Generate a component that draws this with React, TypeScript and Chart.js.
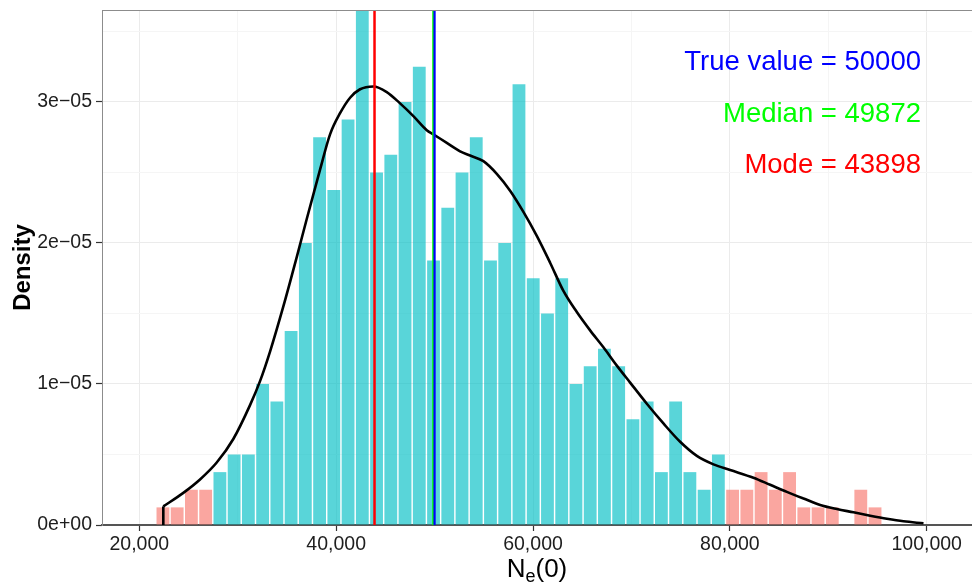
import React, { useEffect, useRef } from 'react';
import { Chart, registerables } from 'chart.js';

Chart.register(...registerables);

// ---- Histogram bins (bin centres on N_e(0) axis) ----
const binCenters = [
  22400, 23847, 25294, 26741, 28188, 29635, 31082, 32529, 33976, 35423,
  36870, 38317, 39764, 41211, 42658, 44105, 45552, 46999, 48446, 49893,
  51340, 52787, 54234, 55681, 57128, 58575, 60022, 61469, 62916, 64363,
  65810, 67257, 68704, 70151, 71598, 73045, 74492, 75939, 77386, 78833,
  80280, 81727, 83174, 84621, 86068, 87515, 88962, 90409, 91856, 93303,
  94750,
];

const binDensity = [
  1.25e-6, 1.25e-6, 2.5e-6, 2.5e-6, 3.75e-6, 5.0e-6, 5.0e-6, 1.0e-5, 8.75e-6, 1.375e-5,
  2.0e-5, 2.75e-5, 2.375e-5, 2.875e-5, 3.875e-5, 2.5e-5, 2.625e-5, 3.0e-5, 3.25e-5, 1.875e-5,
  2.25e-5, 2.5e-5, 2.75e-5, 1.875e-5, 2.0e-5, 3.125e-5, 1.75e-5, 1.5e-5, 1.75e-5, 1.0e-5,
  1.125e-5, 1.25e-5, 1.125e-5, 7.5e-6, 8.75e-6, 3.75e-6, 8.75e-6, 3.75e-6, 2.5e-6, 5.0e-6,
  2.5e-6, 2.5e-6, 3.75e-6, 2.5e-6, 3.75e-6, 1.25e-6, 1.25e-6, 1.25e-6, 0, 2.5e-6,
  1.25e-6,
];

// 'tail' = outside the interval (salmon), 'core' = inside (teal)
const binRegion = [
  'tail', 'tail', 'tail', 'tail', 'core', 'core', 'core', 'core', 'core', 'core',
  'core', 'core', 'core', 'core', 'core', 'core', 'core', 'core', 'core', 'core',
  'core', 'core', 'core', 'core', 'core', 'core', 'core', 'core', 'core', 'core',
  'core', 'core', 'core', 'core', 'core', 'core', 'core', 'core', 'core', 'core',
  'tail', 'tail', 'tail', 'tail', 'tail', 'tail', 'tail', 'tail', 'tail', 'tail',
  'tail',
];

// ---- Kernel density curve ----
const densityX = [
  22439, 24472, 26169, 27866, 29553, 31250, 32266, 33283, 34634, 35996,
  37012, 38364, 39380, 40396, 41413, 42429, 43780, 45142, 46494, 47846,
  49207, 49878, 51240, 52591, 53608, 54959, 56321, 57673, 59024, 60386,
  61738, 63089, 64451, 65803, 67154, 68516, 69868, 71565, 73252, 74949,
  76646, 78333, 80030, 82398, 84096, 85793, 87480, 89177, 90874, 92561,
  94258, 95955, 97642, 99675,
];
const densityY = [
  0.132e-5, 0.228e-5, 0.323e-5, 0.443e-5, 0.61e-5, 0.85e-5, 1.02e-5, 1.23e-5, 1.55e-5, 1.9e-5,
  2.17e-5, 2.52e-5, 2.77e-5, 2.92e-5, 3.03e-5, 3.09e-5, 3.11e-5, 3.07e-5, 2.99e-5, 2.9e-5,
  2.8e-5, 2.77e-5, 2.71e-5, 2.65e-5, 2.62e-5, 2.58e-5, 2.49e-5, 2.37e-5, 2.22e-5, 2.05e-5,
  1.86e-5, 1.66e-5, 1.51e-5, 1.38e-5, 1.26e-5, 1.13e-5, 1.01e-5, 0.86e-5, 0.72e-5, 0.59e-5,
  0.49e-5, 0.43e-5, 0.39e-5, 0.335e-5, 0.285e-5, 0.235e-5, 0.188e-5, 0.142e-5, 0.113e-5, 0.09e-5,
  0.066e-5, 0.044e-5, 0.026e-5, 0.012e-5,
];

// ---- Reference values ----
const trueValue = 50000;
const medianValue = 49872;
const modeValue = 43898;
const annotationLabels = [
  `True value = ${trueValue}`,
  `Median = ${medianValue}`,
  `Mode = ${modeValue}`,
];
const annotationColors = ['#0000FF', '#00FF00', '#FF0000'];
const annotationY = [3.293e-5, 2.926e-5, 2.567e-5];
const annotationX = 99420;

// ---- Axes ----
const xMin = 16210;
const xMax = 104602;
const yMax = 3.652e-5;
const xTickValues = [20000, 30000, 40000, 50000, 60000, 70000, 80000, 90000, 100000];
const xTickLabels = ['20,000', '', '40,000', '', '60,000', '', '80,000', '', '100,000'];
const yTickValues = [0, 0.5e-5, 1e-5, 1.5e-5, 2e-5, 2.5e-5, 3e-5, 3.5e-5];
const yTickLabels = ['0e+00', '', '1e\u221205', '', '2e\u221205', '', '3e\u221205', ''];

const FONT = '"Liberation Sans", Arial, Helvetica, sans-serif';

const isMajorX = (v: number) => xTickLabels[xTickValues.indexOf(v)] !== '';
const isMajorY = (v: number) => yTickLabels[yTickValues.indexOf(v)] !== '';

const overlayPlugin = {
  id: 'overlay',
  afterDraw(chart: any) {
    const { ctx, chartArea, scales } = chart;
    const xs = scales.x;
    const ys = scales.y;
    ctx.save();

    // top panel border
    ctx.strokeStyle = '#8C8C8C';
    ctx.lineWidth = 1;
    ctx.beginPath();
    ctx.moveTo(chartArea.left, chartArea.top + 0.5);
    ctx.lineTo(chartArea.right, chartArea.top + 0.5);
    ctx.stroke();

    // annotations
    const af = 27.5;
    ctx.font = `${af}px ${FONT}`;
    ctx.textAlign = 'right';
    ctx.textBaseline = 'alphabetic';
    annotationLabels.forEach((t, i) => {
      ctx.fillStyle = annotationColors[i];
      ctx.fillText(t, xs.getPixelForValue(annotationX), ys.getPixelForValue(annotationY[i]) + 0.358 * af);
    });

    // x-axis title: N_e(0)
    const mainF = 26;
    const subF = 18;
    const baseY = chartArea.bottom + 52;
    ctx.fillStyle = '#000000';
    ctx.textAlign = 'left';
    ctx.font = `${mainF}px ${FONT}`;
    const wN = ctx.measureText('N').width;
    const wP = ctx.measureText('(0)').width;
    ctx.font = `${subF}px ${FONT}`;
    const wE = ctx.measureText('e').width;
    const total = wN + wE + wP;
    let cx = (chartArea.left + chartArea.right) / 2 - total / 2;
    ctx.font = `${mainF}px ${FONT}`;
    ctx.fillText('N', cx, baseY);
    cx += wN;
    ctx.font = `${subF}px ${FONT}`;
    ctx.fillText('e', cx, baseY + 4.5);
    cx += wE;
    ctx.font = `${mainF}px ${FONT}`;
    ctx.fillText('(0)', cx, baseY);

    // y-axis title
    ctx.font = `bold 24px ${FONT}`;
    ctx.textAlign = 'center';
    ctx.translate(30, (chartArea.top + chartArea.bottom) / 2);
    ctx.rotate(-Math.PI / 2);
    ctx.fillText('Density', 0, 0);

    ctx.restore();
  },
};

export default function App() {
  const canvasRef = useRef<HTMLCanvasElement | null>(null);

  useEffect(() => {
    const canvas = canvasRef.current;
    if (!canvas) return;

    const barData = binCenters.map((x, i) => ({ x, y: binDensity[i] }));
    const curveData = densityX.map((x, i) => ({ x, y: densityY[i] }));
    const vline = (v: number) => [{ x: v, y: 0 }, { x: v, y: yMax }];

    const chart = new Chart(canvas, {
      type: 'bar',
      data: {
        datasets: [
          {
            type: 'bar',
            data: barData as any,
            backgroundColor: binRegion.map((r) =>
              r === 'tail' ? 'rgba(248,118,109,0.65)' : 'rgba(0,191,196,0.65)'
            ),
            borderWidth: 0,
            barPercentage: 0.9,
            categoryPercentage: 1,
            order: 5,
          } as any,
          {
            type: 'line',
            data: curveData as any,
            borderColor: '#000000',
            borderWidth: 2.6,
            pointRadius: 0,
            cubicInterpolationMode: 'monotone',
            fill: false,
            order: 4,
          } as any,
          {
            type: 'line',
            data: [{ x: densityX[0], y: 0 }, { x: densityX[0], y: densityY[0] }] as any,
            borderColor: '#000000',
            borderWidth: 2.6,
            pointRadius: 0,
            fill: false,
            order: 4,
          } as any,
          {
            type: 'line',
            data: vline(modeValue) as any,
            borderColor: '#FF0000',
            borderWidth: 2.5,
            pointRadius: 0,
            fill: false,
            order: 3,
          } as any,
          {
            type: 'line',
            data: vline(medianValue) as any,
            borderColor: '#00FF00',
            borderWidth: 2.2,
            pointRadius: 0,
            fill: false,
            order: 2,
          } as any,
          {
            type: 'line',
            data: vline(trueValue) as any,
            borderColor: '#0000FF',
            borderWidth: 2.2,
            pointRadius: 0,
            fill: false,
            order: 1,
          } as any,
        ],
      },
      options: {
        responsive: false,
        animation: false,
        devicePixelRatio: 1,
        layout: { padding: { top: 10, left: 0, right: 0, bottom: 0 } },
        plugins: {
          legend: { display: false },
          tooltip: { enabled: false },
        },
        scales: {
          x: {
            type: 'linear',
            min: xMin,
            max: xMax,
            offset: false,
            afterBuildTicks: (s: any) => {
              s.ticks = xTickValues.map((v) => ({ value: v }));
            },
            afterFit: (s: any) => {
              s.height = 63;
              s.paddingLeft = 0;
              s.paddingRight = 0;
              s.paddingTop = 0;
              s.paddingBottom = 0;
            },
            grid: {
              offset: false,
              color: (c: any) => (c.tick && isMajorX(c.tick.value) ? '#EBEBEB' : '#F5F5F5'),
              lineWidth: 1,
              drawTicks: true,
              tickLength: 6,
              tickColor: (c: any) => (c.tick && isMajorX(c.tick.value) ? '#333333' : 'rgba(0,0,0,0)'),
              tickWidth: 1.2,
            },
            border: { display: true, color: '#555555', width: 2 },
            ticks: {
              autoSkip: false,
              maxRotation: 0,
              minRotation: 0,
              padding: 2,
              color: '#1E1E1E',
              font: { family: FONT, size: 19.5 },
              callback: (v: any) => {
                const idx = xTickValues.indexOf(Number(v));
                return idx >= 0 ? xTickLabels[idx] : '';
              },
            },
          } as any,
          y: {
            type: 'linear',
            min: 0,
            max: yMax,
            afterBuildTicks: (s: any) => {
              s.ticks = yTickValues.map((v) => ({ value: v }));
            },
            afterFit: (s: any) => {
              s.width = 102;
              s.paddingLeft = 0;
              s.paddingRight = 0;
              s.paddingTop = 0;
              s.paddingBottom = 0;
            },
            grid: {
              color: (c: any) => (c.tick && isMajorY(c.tick.value) ? '#EBEBEB' : '#F5F5F5'),
              lineWidth: 1,
              drawTicks: true,
              tickLength: 6,
              tickColor: (c: any) => (c.tick && isMajorY(c.tick.value) ? '#333333' : 'rgba(0,0,0,0)'),
              tickWidth: 1.2,
            },
            border: { display: true, color: '#8C8C8C', width: 1 },
            ticks: {
              autoSkip: false,
              padding: 4,
              color: '#1E1E1E',
              font: { family: FONT, size: 19.5 },
              callback: (v: any) => {
                const idx = yTickValues.indexOf(Number(v));
                return idx >= 0 ? yTickLabels[idx] : '';
              },
            },
          } as any,
        },
      } as any,
      plugins: [overlayPlugin],
    });

    return () => {
      chart.destroy();
    };
  }, []);

  return (
    <div style={{ position: 'absolute', left: 0, top: 0, width: 972, height: 588, background: '#FFFFFF' }}>
      <canvas ref={canvasRef} width={972} height={588} style={{ display: 'block' }} />
    </div>
  );
}
